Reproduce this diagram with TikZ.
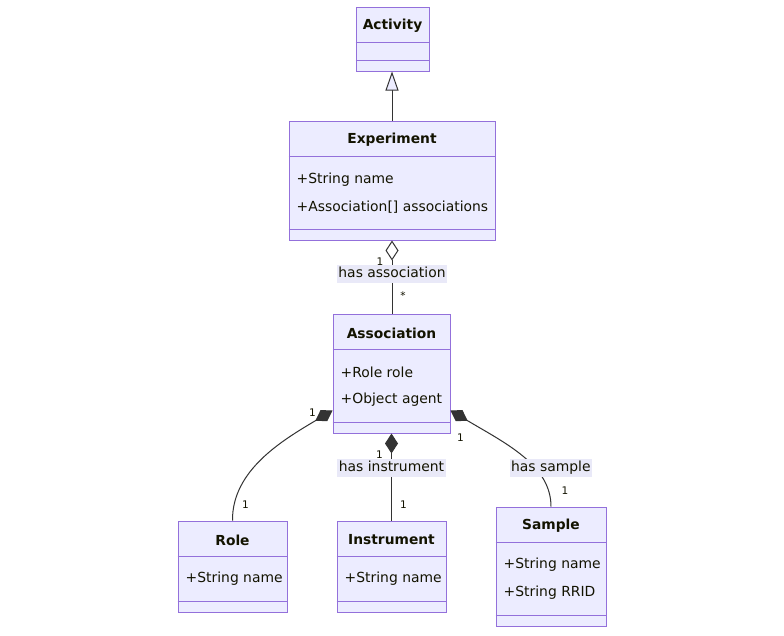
\documentclass[tikz,border=0pt]{standalone}
\usepackage{fontspec}
\setmainfont{DejaVu Sans}
\usetikzlibrary{positioning,arrows.meta,calc}
\definecolor{classfill}{HTML}{ECECFF}
\definecolor{classline}{HTML}{9370DB}
\definecolor{edgeline}{HTML}{333333}
\definecolor{labelfill}{HTML}{E9E9F8}
\definecolor{ink}{HTML}{131300}
\tikzset{
  classbox/.style={draw=classline,fill=classfill,line width=1pt,inner sep=0pt},
  divider/.style={draw=classline,line width=1pt},
  title/.style={font=\fontsize{13.8}{15}\selectfont\bfseries,text=ink},
  attr/.style={anchor=west,font=\fontsize{13.9}{15}\selectfont,text=ink,inner sep=0pt},
  edgelabel/.style={fill=labelfill,font=\fontsize{13.9}{15}\selectfont,text=ink,inner xsep=1.5pt,inner ysep=2.5pt,text height=10pt,text depth=3pt},
  card/.style={font=\fontsize{10.5}{12}\selectfont,text=ink,inner sep=0pt},
  link/.style={draw=edgeline,line width=1pt},
  inherit/.style={link,-{Triangle[length=19pt,width=13pt,fill=classfill]}},
  aggregate/.style={link,{Diamond[length=20pt,width=13pt,fill=white]}-},
  compose/.style={link,{Diamond[length=20pt,width=13pt,fill=edgeline]}-}
}
\begin{document}
\begin{tikzpicture}[x=1pt,y=-1pt]
  \useasboundingbox[fill=white] (0,0) rectangle (784,635);
  % classes
  \node[classbox,minimum width=73pt,minimum height=64pt] (activity) at (392.5,39) {};
  \node[classbox,minimum width=206pt,minimum height=119pt] (experiment) at (392,180.5) {};
  \node[classbox,minimum width=117pt,minimum height=119pt] (association) at (391.5,373.5) {};
  \node[classbox,minimum width=109pt,minimum height=91pt] (role) at (232.5,566.5) {};
  \node[classbox,minimum width=109pt,minimum height=91pt] (instrument) at (391.5,566.5) {};
  \node[classbox,minimum width=110pt,minimum height=119pt] (sample) at (551,566.5) {};
  \foreach \c in {activity,experiment,association,role,instrument,sample}{
    \draw[divider] ([yshift=-36pt]\c.north west) -- ([yshift=-36pt]\c.north east);
    \draw[divider] ([yshift=11pt]\c.south west) -- ([yshift=11pt]\c.south east);
  }
  \foreach \c/\t in {activity/Activity,experiment/Experiment,association/Association,role/Role,instrument/Instrument,sample/Sample}
    \node[title] (\c title) at ([yshift=-19.5pt]\c.north) {\t};
  \node[attr] (expname) at ([xshift=8pt,yshift=-59.5pt]experiment.north west) {+String name};
  \node[attr] (expassoc) at ([xshift=8pt,yshift=-86.5pt]experiment.north west) {+Association[] associations};
  \node[attr] (assocrole) at ([xshift=8pt,yshift=-58.5pt]association.north west) {+Role role};
  \node[attr] (assocagent) at ([xshift=8pt,yshift=-86.5pt]association.north west) {+Object agent};
  \node[attr] (rolename) at ([xshift=8pt,yshift=-58.5pt]role.north west) {+String name};
  \node[attr] (instrname) at ([xshift=8pt,yshift=-58.5pt]instrument.north west) {+String name};
  \node[attr] (samplename) at ([xshift=8pt,yshift=-58.5pt]sample.north west) {+String name};
  \node[attr] (samplerrid) at ([xshift=8pt,yshift=-86.5pt]sample.north west) {+String RRID};
  % relations
  \draw[inherit] (experiment.north) -- (experiment.north |- activity.south);
  \draw[aggregate] (experiment.south) -- (experiment.south |- association.north)
    node[edgelabel,pos=.46] {has association}
    node[card,pos=0,xshift=-12pt,yshift=-21pt] {1}
    node[card,pos=1,xshift=11pt,yshift=18pt] {*};
  \draw[compose] (association.south) -- (association.south |- instrument.north)
    node[edgelabel,pos=.4] {has instrument}
    node[card,pos=0,xshift=-12pt,yshift=-21pt] {1}
    node[card,pos=1,xshift=12pt,yshift=16pt] {1};
  \draw[compose] ([yshift=23pt]association.south west) .. controls (283,440) and (232,470) .. (role.north)
    node[card,pos=0,xshift=-20pt,yshift=-2pt] {1}
    node[card,pos=1,xshift=13pt,yshift=16pt] {1};
  \draw[compose] ([yshift=23pt]association.south east) .. controls (505,443) and (551,465) .. (sample.north)
    node[edgelabel,pos=.64,xshift=16pt] {has sample}
    node[card,pos=0,xshift=10pt,yshift=-27pt] {1}
    node[card,pos=1,xshift=14pt,yshift=16pt] {1};
\end{tikzpicture}
\end{document}
